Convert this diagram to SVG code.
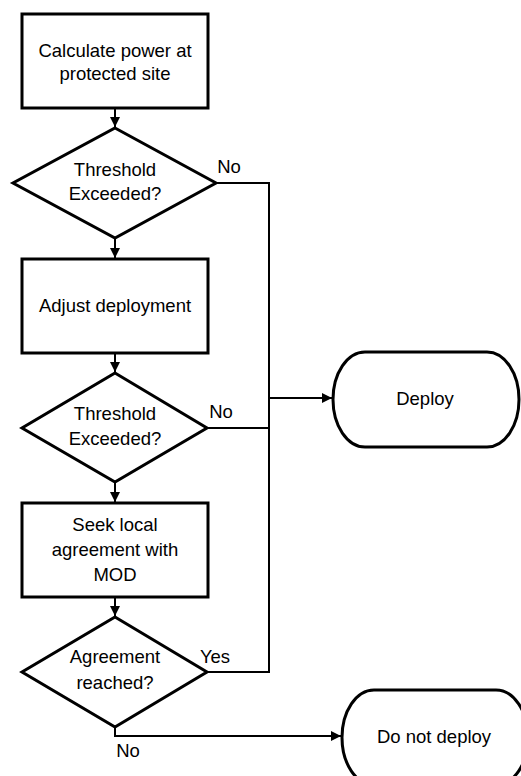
<svg xmlns="http://www.w3.org/2000/svg" width="521" height="776" viewBox="0 0 521 776">
<style>
.shape{fill:#fff;stroke:#000;stroke-width:3;stroke-linejoin:miter}
.conn{fill:none;stroke:#000;stroke-width:2}
text{font-family:"Liberation Sans",Arial,sans-serif;font-size:18.5px;fill:#000;text-anchor:middle}
</style>
<defs>
<marker id="arr" viewBox="0 0 10 10" refX="10" refY="5" markerWidth="5" markerHeight="5" orient="auto" markerUnits="strokeWidth">
<path d="M0,0 L10,5 L0,10 z" fill="#000"/>
</marker>
</defs>
<rect width="521" height="776" fill="#fff"/>
<g id="connectors">
<path class="conn" d="M115,108 V127" marker-end="url(#arr)"/>
<path class="conn" d="M115,238 V258" marker-end="url(#arr)"/>
<path class="conn" d="M115,353 V372" marker-end="url(#arr)"/>
<path class="conn" d="M115,482 V502" marker-end="url(#arr)"/>
<path class="conn" d="M115,597 V616" marker-end="url(#arr)"/>
<path class="conn" d="M216,183 H269 V672 H207"/>
<path class="conn" d="M207,428 H269"/>
<path class="conn" d="M269,398 H332" marker-end="url(#arr)"/>
<path class="conn" d="M115,727 V736 H341" marker-end="url(#arr)"/>
</g>
<g id="calc">
<rect class="shape" x="22" y="14" width="186" height="94"/>
<text x="115" y="57">Calculate power at</text>
<text x="115" y="80">protected site</text>
</g>
<g id="threshold1">
<polygon class="shape" points="115,128 216,183 115,238 13,183"/>
<text x="115" y="176">Threshold</text>
<text x="115" y="200">Exceeded?</text>
<text x="229" y="173">No</text>
</g>
<g id="adjust">
<rect class="shape" x="22" y="259" width="186" height="94"/>
<text x="115" y="312">Adjust deployment</text>
</g>
<g id="threshold2">
<polygon class="shape" points="115,373 207,428 115,482 22,428"/>
<text x="115" y="420">Threshold</text>
<text x="115" y="445">Exceeded?</text>
<text x="221" y="418">No</text>
</g>
<g id="seek">
<rect class="shape" x="22" y="503" width="186" height="94"/>
<text x="115" y="531">Seek local</text>
<text x="115" y="556">agreement with</text>
<text x="115" y="581">MOD</text>
</g>
<g id="agreement">
<polygon class="shape" points="115,617 207,672 115,727 22,672"/>
<text x="115" y="663">Agreement</text>
<text x="115" y="689">reached?</text>
<text x="215" y="663">Yes</text>
<text x="128" y="757">No</text>
</g>
<g id="deploy">
<rect class="shape" x="333" y="352" width="186" height="95" rx="32" ry="47.5"/>
<text x="425" y="405">Deploy</text>
</g>
<g id="donotdeploy">
<rect class="shape" x="342" y="690" width="186" height="95" rx="32" ry="47.5"/>
<text x="434" y="743">Do not deploy</text>
</g>
</svg>
